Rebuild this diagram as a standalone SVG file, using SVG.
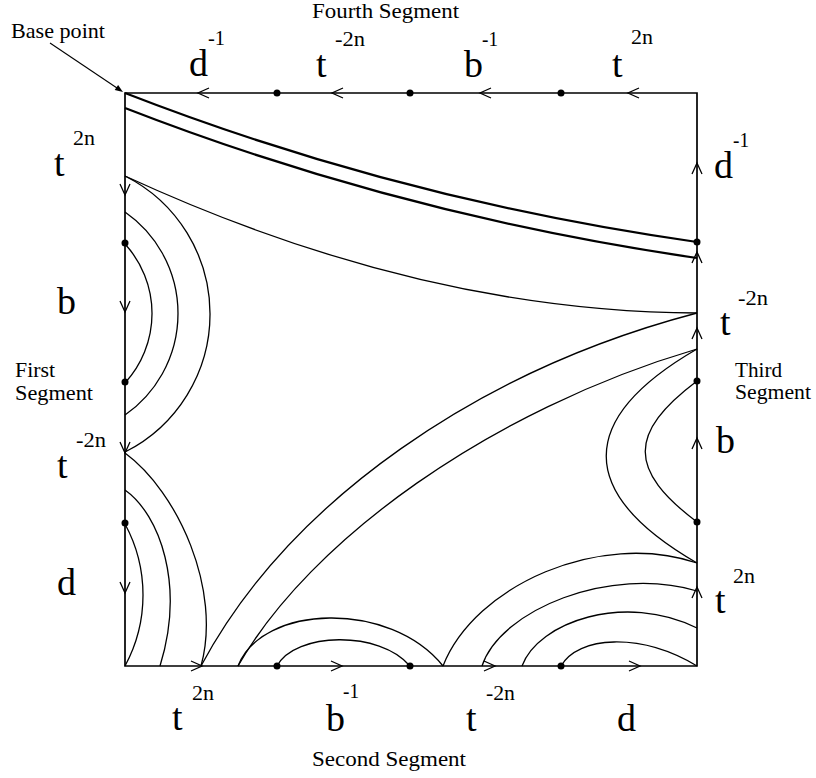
<svg xmlns="http://www.w3.org/2000/svg" width="816" height="778" viewBox="0 0 816 778">
<style>
.edge{stroke:#000;stroke-width:1.7;fill:none}
.c{stroke:#000;stroke-width:1.3;fill:none}
.thick{stroke-width:2.2}
.arr{stroke:#000;stroke-width:1.3;fill:none}
.dot{fill:#000}
text{font-family:"Liberation Serif","Times New Roman",serif;fill:#000}
.big{font-size:38px}
.sup{font-size:20px}
.lab{font-size:21px}
</style>
<rect width="816" height="778" fill="#fff"/>
<g id="square">
<path class="edge" d="M125,93 L697,93 L697,666 L125,666 Z"/>
</g>
<g id="connectors">
<path class="c thick" d="M125,93 Q400,200 697,242"/>
<path class="c thick" d="M125,108 Q400,215 697,258"/>
<path class="c" d="M125,176 Q420,312 697,313"/>
<path class="c" d="M125,176 A154.5,154.5 0 0 1 125,452"/>
<path class="c" d="M125,212 A123.7,123.7 0 0 1 125,415"/>
<path class="c" d="M125,244 A102.9,102.9 0 0 1 125,383"/>
<path class="c" d="M125,453 C178,492 222,590 201,666"/>
<path class="c" d="M125,490 C160,515 185,585 160,666"/>
<path class="c" d="M125,524 A149,149 0 0 1 125,666"/>
<path class="c" d="M201,666 C290,500 480,370 697,313"/>
<path class="c" d="M238,666 C310,540 490,410 697,349"/>
<path class="c" d="M238,666 C262,604 390,600 443,666"/>
<path class="c" d="M277,666 C295,632 380,630 410,666"/>
<path class="c" d="M697,349 C576,419 576,493 697,563"/>
<path class="c" d="M697,381 C628,433 628,470 697,522"/>
<path class="c" d="M443,666 C475,585 600,530 697,563"/>
<path class="c" d="M482,666 C500,610 610,565 697,591"/>
<path class="c" d="M522,666 C538,622 625,592 697,628"/>
<path class="c" d="M561,666 C578,636 640,632 697,666"/>
<path class="c" style="stroke-width:1.1" d="M50,43 L117,88"/>
<polygon points="123,92 114.7,90 118.1,85" fill="#000"/>
</g>
<g id="arrows">
<path class="arr" d="M209,88 L198,93 L209,98 M343,88 L332,93 L343,98 M491,88 L480,93 L491,98 M639,88 L628,93 L639,98"/>
<path class="arr" d="M120,184 L125,195 L130,184 M120,301 L125,312 L130,301 M120,442 L125,453 L130,442 M120,582 L125,593 L130,582"/>
<path class="arr" d="M191,661 L202,666 L191,671 M331,661 L342,666 L331,671 M484,661 L495,666 L484,671 M629,661 L640,666 L629,671"/>
<path class="arr" d="M692,174 L697,163 L702,174 M692,263 L697,252 L702,263 M692,339 L697,328 L702,339 M692,449 L697,438 L702,449 M692,598 L697,587 L702,598"/>
</g>
<g id="dots">
<circle class="dot" cx="277" cy="93" r="3.5"/>
<circle class="dot" cx="410" cy="93" r="3.5"/>
<circle class="dot" cx="561" cy="93" r="3.5"/>
<circle class="dot" cx="125" cy="243" r="3.5"/>
<circle class="dot" cx="125" cy="382" r="3.5"/>
<circle class="dot" cx="125" cy="523" r="3.5"/>
<circle class="dot" cx="277" cy="666" r="3.5"/>
<circle class="dot" cx="410" cy="666" r="3.5"/>
<circle class="dot" cx="561" cy="666" r="3.5"/>
<circle class="dot" cx="697" cy="242" r="3.5"/>
<circle class="dot" cx="697" cy="381" r="3.5"/>
<circle class="dot" cx="697" cy="522" r="3.5"/>
</g>
<g id="segment-labels">
<text class="lab" x="312" y="18" textLength="147" lengthAdjust="spacingAndGlyphs">Fourth  Segment</text>
<text class="lab" x="11" y="38" textLength="94" lengthAdjust="spacingAndGlyphs">Base point</text>
<text class="lab" x="15" y="377" textLength="40" lengthAdjust="spacingAndGlyphs">First</text>
<text class="lab" x="15" y="400" textLength="78" lengthAdjust="spacingAndGlyphs">Segment</text>
<text class="lab" x="735" y="377" textLength="47" lengthAdjust="spacingAndGlyphs">Third</text>
<text class="lab" x="735" y="399" textLength="76" lengthAdjust="spacingAndGlyphs">Segment</text>
<text class="lab" x="312" y="766" textLength="154" lengthAdjust="spacingAndGlyphs">Second  Segment</text>
</g>
<g id="top-labels">
<text class="big" x="189" y="76">d</text><text class="sup" x="208" y="45" textLength="17" lengthAdjust="spacingAndGlyphs">-1</text>
<text class="big" x="316" y="77">t</text><text class="sup" x="335" y="46" textLength="30" lengthAdjust="spacingAndGlyphs">-2n</text>
<text class="big" x="464" y="77">b</text><text class="sup" x="482" y="46" textLength="16" lengthAdjust="spacingAndGlyphs">-1</text>
<text class="big" x="612" y="77">t</text><text class="sup" x="631" y="44" textLength="22" lengthAdjust="spacingAndGlyphs">2n</text>
</g>
<g id="left-labels">
<text class="big" x="54" y="176">t</text><text class="sup" x="73" y="145" textLength="22" lengthAdjust="spacingAndGlyphs">2n</text>
<text class="big" x="57" y="314">b</text>
<text class="big" x="57" y="478">t</text><text class="sup" x="76" y="447" textLength="30" lengthAdjust="spacingAndGlyphs">-2n</text>
<text class="big" x="57" y="595">d</text>
</g>
<g id="bottom-labels">
<text class="big" x="172" y="730">t</text><text class="sup" x="192" y="700" textLength="22" lengthAdjust="spacingAndGlyphs">2n</text>
<text class="big" x="326" y="731">b</text><text class="sup" x="343" y="698" textLength="16" lengthAdjust="spacingAndGlyphs">-1</text>
<text class="big" x="466" y="731">t</text><text class="sup" x="486" y="700" textLength="29" lengthAdjust="spacingAndGlyphs">-2n</text>
<text class="big" x="617" y="731">d</text>
</g>
<g id="right-labels">
<text class="big" x="714" y="178">d</text><text class="sup" x="733" y="147" textLength="16" lengthAdjust="spacingAndGlyphs">-1</text>
<text class="big" x="720" y="335">t</text><text class="sup" x="738" y="305" textLength="30" lengthAdjust="spacingAndGlyphs">-2n</text>
<text class="big" x="716" y="453">b</text>
<text class="big" x="715" y="613">t</text><text class="sup" x="733" y="583" textLength="22" lengthAdjust="spacingAndGlyphs">2n</text>
</g>
</svg>
